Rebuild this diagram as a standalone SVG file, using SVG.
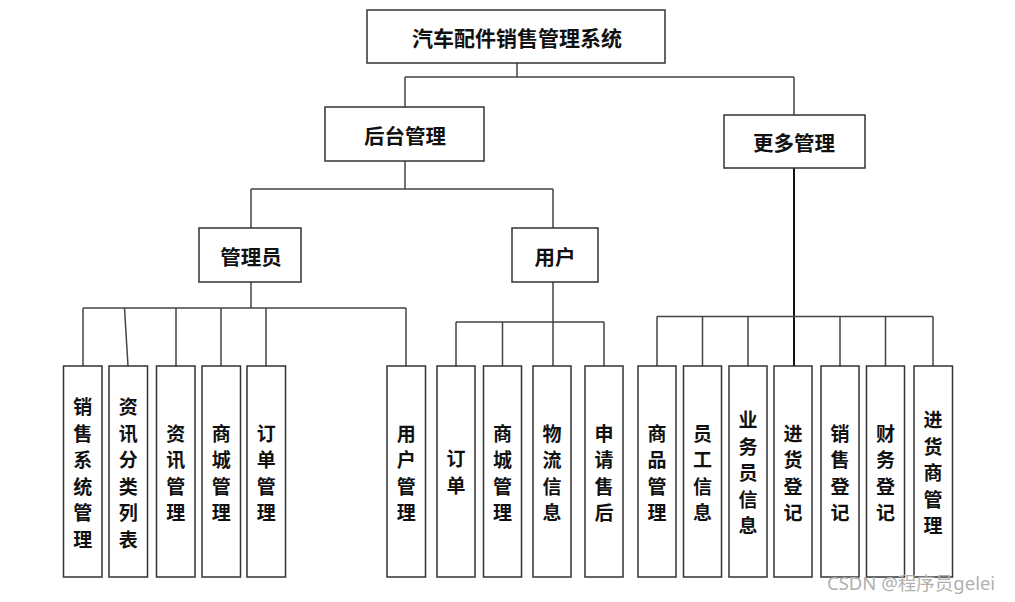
<svg xmlns="http://www.w3.org/2000/svg" width="1015" height="602" viewBox="0 0 1015 602">
<style>
.box{fill:#fff;stroke:#333;stroke-width:1.5}
.t{font-family:"Noto Sans CJK SC","Noto Sans CJK TC",sans-serif;font-weight:bold;fill:#111;text-anchor:middle;dominant-baseline:central}
.h{font-size:20.5px}
.top{font-size:21px}
.v{font-size:19px}
.c{stroke:#444;stroke-width:1.5;fill:none}
.wm{font-family:"Noto Sans","Noto Sans CJK SC",sans-serif;font-size:18.5px;fill:#b0b0b0}
</style>
<rect width="1015" height="602" fill="#fff"/>
<g id="connectors">
<path class="c" d="M517 63V77M405 77H794M405 77V107M794 77V115"/>
<path class="c" d="M405 161V189M251 189H553M251 189V228M553 189V228"/>
<path class="c" d="M251 282V308M83 308H406M83 308V366M124.5 308L128 366M176 308V366M221 308V366M266 308V366M406 308V366"/>
<path class="c" d="M553 282V322M456 322H604M456 322V366M502.5 322V366M553 322V366M604 322V366"/>
<path class="c" style="stroke:#111;stroke-width:2" d="M794 168V366"/>
<path class="c" d="M657 316.5H933M657 316.5V366M702.5 316.5V366M748 316.5V366M840 316.5V366M885.5 316.5V366M933 316.5V366"/>
</g>
<g id="root"><rect class="box" x="367" y="10" width="298" height="53"/><text class="t top" x="517" y="37">汽车配件销售管理系统</text></g>
<g id="houtai"><rect class="box" x="325" y="107" width="159" height="54"/><text class="t h" x="405" y="135">后台管理</text></g>
<g id="gengduo"><rect class="box" x="724" y="115" width="141" height="53"/><text class="t h" x="794" y="142">更多管理</text></g>
<g id="admin"><rect class="box" x="199" y="228" width="102" height="54"/><text class="t h" x="251" y="256">管理员</text></g>
<g id="user"><rect class="box" x="512" y="228" width="86" height="54"/><text class="t h" x="555" y="256">用户</text></g>

<g id="n1"><rect class="box" x="63.5" y="366" width="38.5" height="211"/><text class="t v" x="82.7"><tspan x="82.7" y="405">销</tspan><tspan x="82.7" y="431.5">售</tspan><tspan x="82.7" y="458">系</tspan><tspan x="82.7" y="484.5">统</tspan><tspan x="82.7" y="511">管</tspan><tspan x="82.7" y="537.5">理</tspan></text></g>
<g id="n2"><rect class="box" x="109" y="366" width="38.5" height="211"/><text class="t v"><tspan x="128.2" y="405">资</tspan><tspan x="128.2" y="431.5">讯</tspan><tspan x="128.2" y="458">分</tspan><tspan x="128.2" y="484.5">类</tspan><tspan x="128.2" y="511">列</tspan><tspan x="128.2" y="537.5">表</tspan></text></g>
<g id="n3"><rect class="box" x="156.5" y="366" width="38.5" height="211"/><text class="t v"><tspan x="175.7" y="431.5">资</tspan><tspan x="175.7" y="458">讯</tspan><tspan x="175.7" y="484.5">管</tspan><tspan x="175.7" y="511">理</tspan></text></g>
<g id="n4"><rect class="box" x="202" y="366" width="38.5" height="211"/><text class="t v"><tspan x="221.2" y="431.5">商</tspan><tspan x="221.2" y="458">城</tspan><tspan x="221.2" y="484.5">管</tspan><tspan x="221.2" y="511">理</tspan></text></g>
<g id="n5"><rect class="box" x="247" y="366" width="38.5" height="211"/><text class="t v"><tspan x="266.2" y="431.5">订</tspan><tspan x="266.2" y="458">单</tspan><tspan x="266.2" y="484.5">管</tspan><tspan x="266.2" y="511">理</tspan></text></g>
<g id="n6"><rect class="box" x="387" y="366" width="38.5" height="211"/><text class="t v"><tspan x="406.2" y="431.5">用</tspan><tspan x="406.2" y="458">户</tspan><tspan x="406.2" y="484.5">管</tspan><tspan x="406.2" y="511">理</tspan></text></g>
<g id="n7"><rect class="box" x="437" y="366" width="38" height="211"/><text class="t v"><tspan x="456" y="457">订</tspan><tspan x="456" y="483.5">单</tspan></text></g>
<g id="n8"><rect class="box" x="483.5" y="366" width="38" height="211"/><text class="t v"><tspan x="502.5" y="431.5">商</tspan><tspan x="502.5" y="458">城</tspan><tspan x="502.5" y="484.5">管</tspan><tspan x="502.5" y="511">理</tspan></text></g>
<g id="n9"><rect class="box" x="533" y="366" width="38" height="211"/><text class="t v"><tspan x="552" y="431.5">物</tspan><tspan x="552" y="458">流</tspan><tspan x="552" y="484.5">信</tspan><tspan x="552" y="511">息</tspan></text></g>
<g id="n10"><rect class="box" x="585" y="366" width="38" height="211"/><text class="t v"><tspan x="604" y="431.5">申</tspan><tspan x="604" y="458">请</tspan><tspan x="604" y="484.5">售</tspan><tspan x="604" y="511">后</tspan></text></g>
<g id="n11"><rect class="box" x="638" y="366" width="38" height="211"/><text class="t v"><tspan x="657" y="431.5">商</tspan><tspan x="657" y="458">品</tspan><tspan x="657" y="484.5">管</tspan><tspan x="657" y="511">理</tspan></text></g>
<g id="n12"><rect class="box" x="683.5" y="366" width="38" height="211"/><text class="t v"><tspan x="702.5" y="431.5">员</tspan><tspan x="702.5" y="458">工</tspan><tspan x="702.5" y="484.5">信</tspan><tspan x="702.5" y="511">息</tspan></text></g>
<g id="n13"><rect class="box" x="729" y="366" width="38" height="211"/><text class="t v"><tspan x="748" y="418">业</tspan><tspan x="748" y="444.5">务</tspan><tspan x="748" y="471">员</tspan><tspan x="748" y="497.5">信</tspan><tspan x="748" y="524">息</tspan></text></g>
<g id="n14"><rect class="box" x="774" y="366" width="38" height="211"/><text class="t v"><tspan x="793" y="431.5">进</tspan><tspan x="793" y="458">货</tspan><tspan x="793" y="484.5">登</tspan><tspan x="793" y="511">记</tspan></text></g>
<g id="n15"><rect class="box" x="821" y="366" width="38" height="211"/><text class="t v"><tspan x="840" y="431.5">销</tspan><tspan x="840" y="458">售</tspan><tspan x="840" y="484.5">登</tspan><tspan x="840" y="511">记</tspan></text></g>
<g id="n16"><rect class="box" x="866.5" y="366" width="38" height="211"/><text class="t v"><tspan x="885.5" y="431.5">财</tspan><tspan x="885.5" y="458">务</tspan><tspan x="885.5" y="484.5">登</tspan><tspan x="885.5" y="511">记</tspan></text></g>
<g id="n17"><rect class="box" x="914" y="366" width="38.5" height="211"/><text class="t v"><tspan x="933" y="418">进</tspan><tspan x="933" y="444.5">货</tspan><tspan x="933" y="471">商</tspan><tspan x="933" y="497.5">管</tspan><tspan x="933" y="524">理</tspan></text></g>
<text class="wm" x="827" y="590">CSDN @程序员gelei</text>
</svg>
